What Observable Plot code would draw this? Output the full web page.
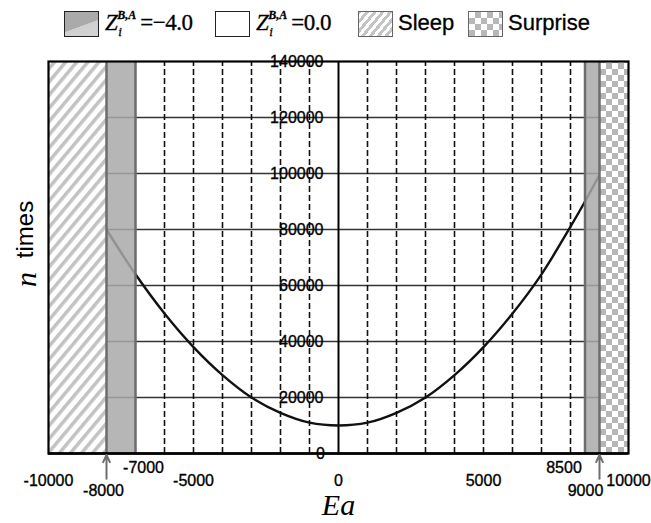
<!DOCTYPE html>
<html>
<head>
<meta charset="utf-8">
<script src="https://cdn.jsdelivr.net/npm/d3@7"></script>
<script src="https://cdn.jsdelivr.net/npm/@observablehq/plot@0.6"></script>
<style>
  body { margin: 0; background: #fff; }
  #wrap { position: relative; width: 651px; height: 523px; overflow: hidden; font-family: "Liberation Sans", Arial, sans-serif; }
  #legend { position: absolute; left: 0; top: 0; width: 651px; height: 45px; }
  .box { position: absolute; top: 11px; width: 35px; height: 26px; border: 1.5px solid #222; box-sizing: border-box; }
  .lbl { position: absolute; top: 8px; font-size: 22px; color: #000; line-height: 30px; white-space: nowrap; -webkit-text-stroke: 0.3px #000; }
  .zl { position: absolute; top: 8px; font-family: "Liberation Serif", "Times New Roman", serif; font-size: 23px; color: #000; line-height: 30px; white-space: nowrap; letter-spacing: -0.5px; -webkit-text-stroke: 0.3px #000; }
  .zl i.Z { font-style: italic; }
  .zl .ss { position: relative; display: inline-block; width: 23px; height: 30px; vertical-align: top; }
  .zl .ss .sup { position: absolute; left: 0; top: 1px; font-size: 12px; line-height: 12px; font-style: italic; font-weight: bold; letter-spacing: 0; }
  .zl .ss .sub { position: absolute; left: 1px; top: 17px; font-size: 13px; line-height: 13px; font-style: italic; }
  #chart { position: absolute; left: 0; top: 45px; }
</style>
</head>
<body>
<div id="wrap">
  <div id="legend">
    <div class="box" style="left:64px;background:linear-gradient(160deg,#aaaaaa 0%,#aaaaaa 55%,#cfcfcf 56%,#d4d4d4 100%);"></div>
    <div class="zl" style="left:105px;"><i class="Z">Z</i><span class="ss"><span class="sup">B,A</span><span class="sub">i</span></span>=&minus;4.0</div>
    <div class="box" style="left:215px;background:#fff;"></div>
    <div class="zl" style="left:256px;"><i class="Z">Z</i><span class="ss"><span class="sup">B,A</span><span class="sub">i</span></span>=0.0</div>
    <div class="box" style="left:358px;background:repeating-linear-gradient(-50deg,#fff 0px,#fff 3px,#c4c4c4 3px,#c4c4c4 6px);border-color:#666;"></div>
    <div class="lbl" style="left:398px;">Sleep</div>
    <div class="box" style="left:468px;background-color:#fff;background-image:conic-gradient(#b8b8b8 25%, #fff 25% 50%, #b8b8b8 50% 75%, #fff 75%);background-size:12px 12px;border-color:#666;"></div>
    <div class="lbl" style="left:508px;">Surprise</div>
  </div>
  <div id="chart"></div>
</div>
<script>
// ---- data ----
const eaValues = [-8000, -7000, -6000, -5000, -4000, -3000, -2000, -1000, 0, 1000, 2000, 3000, 4000, 5000, 6000, 7000, 8000, 8500, 9000];
const nValues  = [80000, 64000, 50000, 38000, 28000, 20000, 14500, 11000, 10000, 11000, 14500, 20000, 28000, 38000, 50000, 64000, 81000, 90000, 99500];
const yTicks = [0, 20000, 40000, 60000, 80000, 100000, 120000, 140000];
const yGrid = [20000, 40000, 60000, 80000, 100000, 120000];
const xGridDashed = [-6000, -5000, -4000, -3000, -2000, -1000, 1000, 2000, 3000, 4000, 5000, 6000, 7000, 8000];
const xTicksMid = [-10000, -5000, 0, 5000, 10000];
const xTicksHigh = [-7000, 8500];
const xTicksLow = [-8000, 9000];
const sleepRange = [-10000, -8000];
const surpriseRange = [9000, 10000];
const grayBands = [[-8000, -7000], [8500, 9000]];
const bandEdges = [-8000, -7000, 8500, 9000];
const arrowAt = [-8000, 9000];

const curve = eaValues.map((x, i) => ({x, y: nValues[i]}));
const yMax = 140000;

const highDx = [8, -21];
const lowDx = [-3, -14];
const tickFont = {fontSize: 16, fill: "#000", stroke: "#000", strokeWidth: 0.35, lineAnchor: "middle"};

const plot = Plot.plot({
  width: 651,
  height: 478,
  marginTop: 16,
  marginBottom: 70,
  marginLeft: 48,
  marginRight: 23,
  x: {domain: [-10000, 10000], axis: null},
  y: {domain: [0, yMax], axis: null},
  style: {fontFamily: "'Liberation Sans', Arial, sans-serif", background: "white", overflow: "visible"},
  marks: [
    Plot.ruleY(yGrid, {stroke: "#333", strokeWidth: 1.4}),
    Plot.ruleX(xGridDashed, {y1: 0, y2: yMax, stroke: "#111", strokeWidth: 1.6, strokeDasharray: "6,3"}),
    Plot.ruleX([0], {y1: 0, y2: yMax, stroke: "#000", strokeWidth: 2}),
    Plot.line(curve, {x: "x", y: "y", stroke: "#111", strokeWidth: 2.4, curve: "catmull-rom"}),
    Plot.rect([sleepRange], {x1: d => d[0], x2: d => d[1], y1: 0, y2: yMax, fill: "url(#hatch)"}),
    Plot.rect([surpriseRange], {x1: d => d[0], x2: d => d[1], y1: 0, y2: yMax, fill: "url(#checker)"}),
    Plot.rect(grayBands, {x1: d => d[0], x2: d => d[1], y1: 0, y2: yMax, fill: "#a9a9a9", fillOpacity: 0.85}),
    Plot.ruleX(bandEdges, {y1: 0, y2: yMax, stroke: "#6c6c6c", strokeWidth: 2.5}),
    Plot.frame({stroke: "#000", strokeWidth: 2.2}),
    Plot.ruleY([0], {stroke: "#000", strokeWidth: 2.6}),
    // y tick labels along the center line
    Plot.text(yTicks.filter(v => v > 0), {x: 0, y: d => d, text: d => String(d), textAnchor: "end", dx: -15, fontSize: 16, fill: "#000", stroke: "#000", strokeWidth: 0.35}),
    Plot.text([0], {x: 0, y: 0, text: d => String(d), dx: -18, dy: 0, fontSize: 16, fill: "#000", stroke: "#000", strokeWidth: 0.35}),
    // x tick labels (three staggered rows)
    Plot.text(xTicksMid, {x: d => d, frameAnchor: "bottom", text: d => String(d), dy: 27, ...tickFont}),
    Plot.text([xTicksHigh[0]], {x: d => d, frameAnchor: "bottom", text: d => String(d), dy: 14, dx: highDx[0], ...tickFont}),
    Plot.text([xTicksHigh[1]], {x: d => d, frameAnchor: "bottom", text: d => String(d), dy: 14, dx: highDx[1], ...tickFont}),
    Plot.text([xTicksLow[0]], {x: d => d, frameAnchor: "bottom", text: d => String(d), dy: 37, dx: lowDx[0], ...tickFont}),
    Plot.text([xTicksLow[1]], {x: d => d, frameAnchor: "bottom", text: d => String(d), dy: 37, dx: lowDx[1], ...tickFont}),
    Plot.arrow(arrowAt, {x1: d => d, x2: d => d, y1: -9000, y2: -500, stroke: "#6e6e6e", strokeWidth: 2, headLength: 10, headAngle: 50}),
    // axis titles
    Plot.text(["Ea"], {frameAnchor: "bottom", dy: 52, lineAnchor: "middle", text: d => d, fontSize: 30, fontStyle: "italic", fontFamily: "'Liberation Serif', 'Times New Roman', serif", fill: "#000"}),
    Plot.text(["times"], {frameAnchor: "left", textAnchor: "middle", dx: -23, dy: -28, rotate: -90, text: d => d, fontSize: 24, fill: "#000", style: "letter-spacing:1px"}),
    Plot.text(["n"], {frameAnchor: "left", textAnchor: "middle", dx: -22, dy: 22, rotate: -90, text: d => d, fontSize: 30, fontStyle: "italic", fontFamily: "'Liberation Serif', 'Times New Roman', serif", fill: "#000"})
  ]
});

// patterns for the shaded regions
const svg = d3.select(plot);
const defs = svg.insert("defs", ":first-child");
const hatch = defs.append("pattern").attr("id", "hatch").attr("patternUnits", "userSpaceOnUse")
  .attr("width", 8.5).attr("height", 8.5).attr("patternTransform", "rotate(40)");
hatch.append("rect").attr("width", 8.5).attr("height", 8.5).attr("fill", "#fff");
hatch.append("rect").attr("width", 3.5).attr("height", 8.5).attr("fill", "#c2c2c2");
const checker = defs.append("pattern").attr("id", "checker").attr("patternUnits", "userSpaceOnUse")
  .attr("width", 12).attr("height", 12).attr("x", 0).attr("y", 0);
checker.append("rect").attr("width", 12).attr("height", 12).attr("fill", "#fff");
checker.append("rect").attr("width", 6).attr("height", 6).attr("fill", "#b6b6b6");
checker.append("rect").attr("x", 6).attr("y", 6).attr("width", 6).attr("height", 6).attr("fill", "#b6b6b6");

document.getElementById("chart").appendChild(plot);
</script>
</body>
</html>
